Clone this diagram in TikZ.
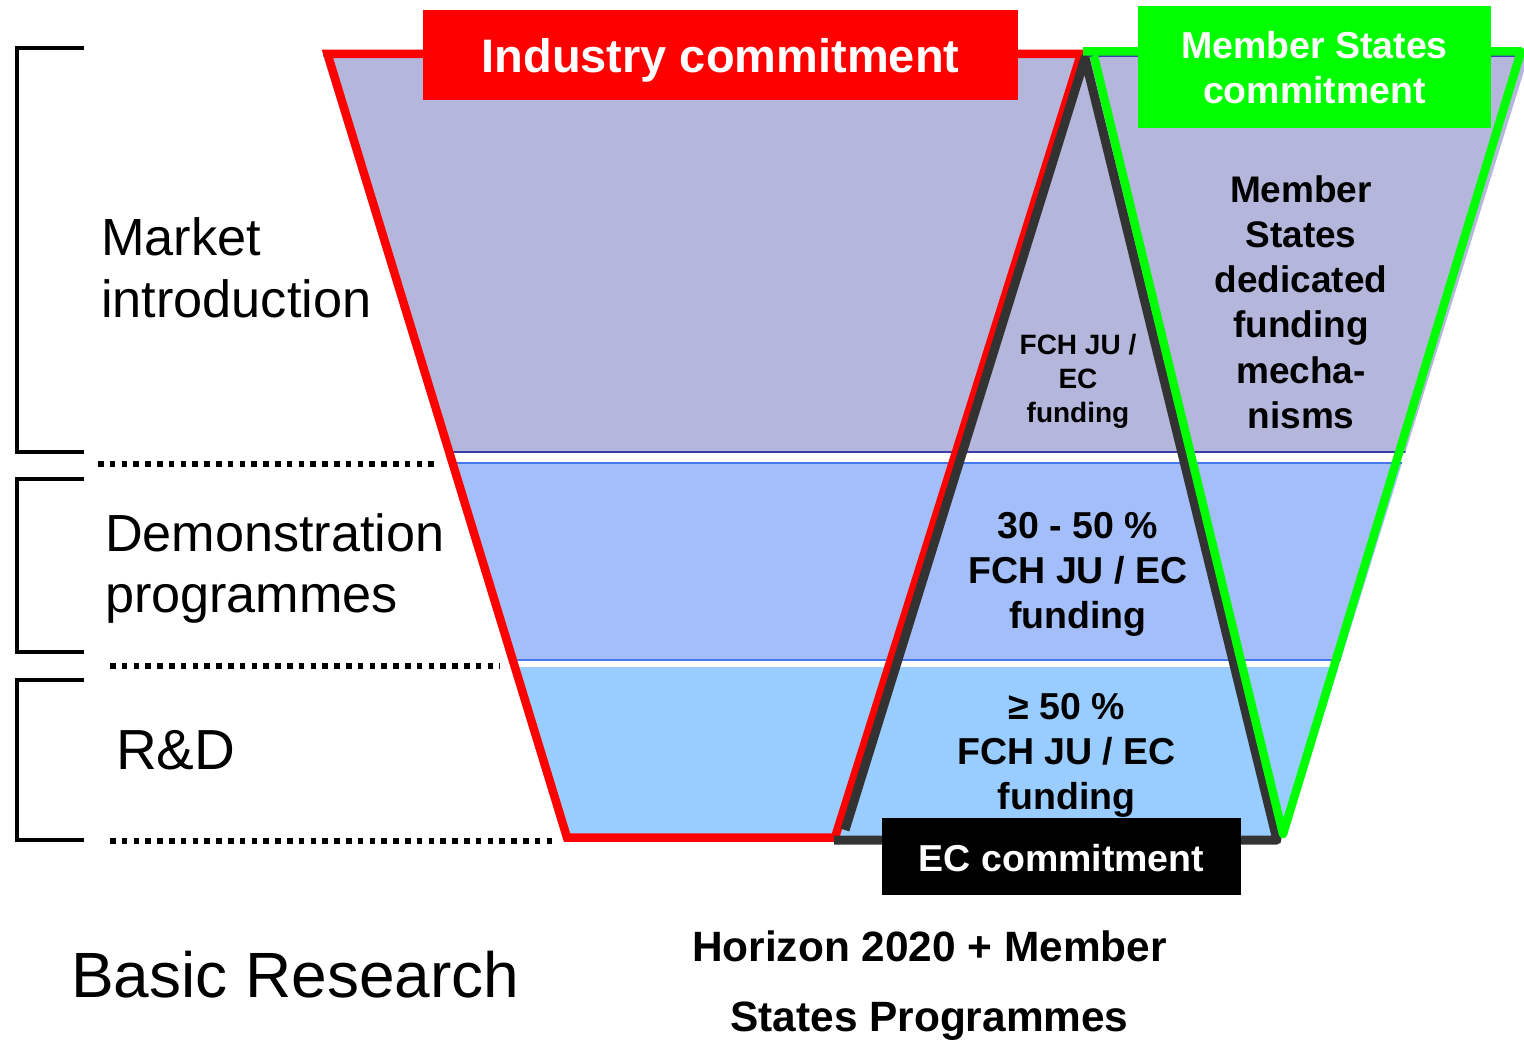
\documentclass[tikz,border=0pt]{standalone}
\usepackage{fontspec}
\setmainfont{Liberation Sans}
\newcommand\txtsize[2]{\fontsize{#1}{#2}\selectfont}
\definecolor{bandA}{RGB}{180,182,220}
\definecolor{bandB}{RGB}{164,190,250}
\definecolor{bandC}{RGB}{153,204,255}
\definecolor{edgeA}{RGB}{60,60,170}
\definecolor{edgeB}{RGB}{70,120,240}
\definecolor{pureRed}{RGB}{255,0,0}
\definecolor{pureGreen}{RGB}{0,255,0}
\definecolor{darkGrey}{RGB}{51,51,51}
\begin{document}
\begin{tikzpicture}[x=1pt,y=-1pt,
  every node/.style={inner sep=0pt,outer sep=0pt},
  bracketline/.style={line width=4pt,line join=miter,black},
  dotline/.style={line width=5.5pt,dash pattern=on 5.5pt off 6.3pt,black},
  redline/.style={line width=8.5pt,line join=miter,pureRed},
  greyline/.style={line width=9pt,line join=round,darkGrey},
  greenline/.style={line width=8.5pt,line join=round,pureGreen},
  tagbox/.style={text=white,font=\bfseries\txtsize{#1}{45.7}},
  stagelabel/.style={font=\txtsize{#1}{62},align=left},
  sharelabel/.style={font=\bfseries\txtsize{37.5}{45},align=center}]
\useasboundingbox (0,0) rectangle (1524,1040);

% stage bands inside the funnel
\begin{scope}
  \clip (323,55) -- (1529,55) -- (1286,836) -- (565,836) -- cycle;
  \fill[bandA] (300,55) rectangle (1530,453);
  \draw[edgeA,line width=2pt] (300,56) -- (1530,56);
  \draw[edgeA,line width=2pt] (300,452.5) -- (1530,452.5);
  \fill[bandB] (300,463) rectangle (1530,660);
  \draw[edgeB,line width=2pt] (300,463.5) -- (1530,463.5);
  \draw[edgeB,line width=2pt] (300,659.5) -- (1530,659.5);
  \fill[bandC] (300,667) rectangle (1530,836);
\end{scope}

% stage brackets and separators
\draw[bracketline] (84,48) -- (17,48) -- (17,452) -- (84,452);
\draw[bracketline] (84,479) -- (17,479) -- (17,652) -- (84,652);
\draw[bracketline] (84,680) -- (17,680) -- (17,840) -- (84,840);
\coordinate (d1a) at (98,464);  \coordinate (d1b) at (436,464);
\coordinate (d2a) at (110,666); \coordinate (d2b) at (500,666);
\coordinate (d3a) at (110,841); \coordinate (d3b) at (558,841);
\draw[dotline] (d1a) -- (d1b);
\draw[dotline] (d2a) -- (d2b);
\draw[dotline] (d3a) -- (d3b);

% commitment outlines
\draw[redline] (327.5,54) -- (1081,54) -- (835,837.5) -- (567,837.5) -- cycle;
\draw[greyline] (845,830) -- (1085,58) -- (1277,840) -- (834,840);
\draw[greenline] (1083,51.5) -- (1521,51.5) -- (1283,834) -- (1094,56);

% commitment tags
\node[tagbox=47,fill=pureRed,minimum width=595,minimum height=90,
      text height=40,text depth=4] (industry) at (720.5,55) {Industry commitment};
\node[tagbox=37.5,fill=pureGreen,minimum width=353,minimum height=122,
      align=center] (member) at (1314.5,67.5) {Member States\\commitment};
\node[tagbox=37.5,fill=black,minimum width=359,minimum height=77,
      text height=34,text depth=4] (ec) at (1061.5,856.5) {EC commitment};

% funding shares
\node[font=\bfseries\txtsize{28}{34},align=center] (fchtop) at (1078,381)
  {FCH JU /\\EC\\funding};
\node[font=\bfseries\txtsize{37}{45.2},align=center] (msfund) at (1301,302)
  {Member\\States\\dedicated\\funding\\mecha-\\nisms};
\node[sharelabel] (demoshare) at (1078,574) {30 - 50 \%\\FCH JU / EC\\funding};
\node[sharelabel] (rdshare) at (1066.5,755) {≥ 50 \%\\FCH JU / EC\\funding};

% stage names
\node[stagelabel=52.3,anchor=west] (market) at (101,268) {Market\\introduction};
\node[font=\txtsize{52.2}{61},align=left,anchor=west] (demo) at (105,569)
  {Demonstration\\programmes};
\node[font=\txtsize{56.5}{62},anchor=base west] (rd) at (116,769) {R\&D};
\node[font=\txtsize{64}{70},anchor=base west] (basic) at (71,997) {Basic Research};
\node[font=\bfseries\txtsize{42.4}{70},align=center] (horizon) at (929.5,986)
  {Horizon 2020 + Member\\States Programmes};
\end{tikzpicture}
\end{document}
